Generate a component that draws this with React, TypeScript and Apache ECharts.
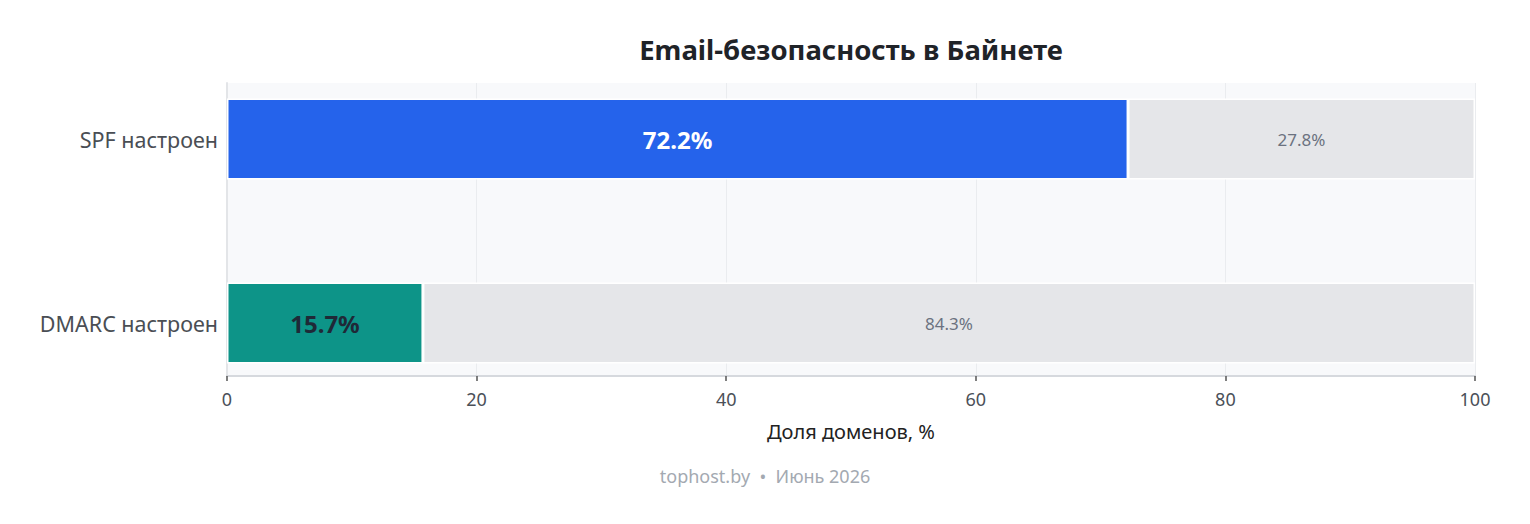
import React, { useEffect, useRef } from "react";
import * as echarts from "echarts";

const categories = ["SPF настроен", "DMARC настроен"];
const configured = [72.2, 15.7];
const notConfigured = [27.8, 84.3];
const barColors = ["#2563eb", "#0d9488"];
const labelColors = ["#ffffff", "#1f2937"];
const xTicks = [0, 20, 40, 60, 80, 100];
const titleText = "Email-безопасность в Байнете";
const xAxisName = "Доля доменов, %";
const footerText = "tophost.by  •  Июнь 2026";

const FONT = "'Noto Sans', 'Open Sans', sans-serif";

export default function App() {
  const ref = useRef<HTMLDivElement>(null);
  useEffect(() => {
    if (!ref.current) return;
    const chart = echarts.init(ref.current, undefined, { renderer: "svg" });
    const xMin = xTicks[0];
    const xMax = xTicks[xTicks.length - 1];
    chart.setOption({
      animation: false,
      textStyle: { fontFamily: FONT },
      grid: [
        { left: 227, right: 55, top: 47, bottom: 109, show: false },
        {
          left: 227,
          right: 55,
          top: 83,
          bottom: 148,
          show: true,
          backgroundColor: "#f8f9fb",
          borderWidth: 0,
          z: 0,
        },
      ],
      xAxis: [
        { type: "value", gridIndex: 0, min: xMin, max: xMax, interval: 20, show: false },
        {
          type: "value",
          gridIndex: 1,
          min: xMin,
          max: xMax,
          interval: 20,
          name: xAxisName,
          nameLocation: "middle",
          nameGap: 45,
          nameTextStyle: { fontSize: 20, color: "#222222", fontFamily: FONT },
          axisLine: { show: true, lineStyle: { color: "#d6d9de", width: 2 } },
          axisTick: { show: true, length: 5, lineStyle: { color: "#555555", width: 1.5 } },
          axisLabel: { fontSize: 18, color: "#4b5058", margin: 14, fontFamily: FONT },
          splitLine: { show: true, lineStyle: { color: "#eaecef", width: 1 } },
        },
      ],
      yAxis: [
        {
          type: "category",
          gridIndex: 0,
          data: categories,
          inverse: true,
          axisLine: { show: false },
          axisTick: { show: false },
          splitLine: { show: false },
          axisLabel: { fontSize: 21.5, color: "#4a4e54", margin: 9, fontFamily: FONT },
        },
        {
          type: "category",
          gridIndex: 1,
          data: categories,
          inverse: true,
          axisLine: { show: true, lineStyle: { color: "#e3e5e8", width: 2 } },
          axisTick: { show: false },
          axisLabel: { show: false },
          splitLine: { show: false },
        },
      ],
      series: [
        {
          type: "bar",
          xAxisIndex: 0,
          yAxisIndex: 0,
          stack: "total",
          barWidth: 81,
          z: 3,
          data: configured.map((v, i) => ({
            value: v,
            itemStyle: { color: barColors[i] },
            label: { color: labelColors[i] },
          })),
          itemStyle: { borderColor: "#ffffff", borderWidth: 1.5 },
          label: {
            show: true,
            position: "inside",
            fontSize: 24,
            fontWeight: "bold",
            fontFamily: FONT,
            formatter: (p: any) => `${p.value}%`,
          },
        },
        {
          type: "bar",
          xAxisIndex: 0,
          yAxisIndex: 0,
          stack: "total",
          barWidth: 81,
          z: 3,
          data: notConfigured,
          itemStyle: { color: "#e5e6e9", borderColor: "#ffffff", borderWidth: 1.5 },
          label: {
            show: true,
            position: "inside",
            fontSize: 17,
            color: "#6b7280",
            fontFamily: FONT,
            formatter: (p: any) => `${p.value}%`,
          },
        },
      ],
      graphic: [
        {
          type: "text",
          x: 851,
          y: 49,
          style: {
            text: titleText,
            fontSize: 27.5,
            fontWeight: "bold",
            fill: "#1f2328",
            fontFamily: FONT,
            textAlign: "center",
            textVerticalAlign: "middle",
          },
        },
        {
          type: "text",
          x: 765,
          y: 476,
          style: {
            text: footerText,
            fontSize: 18,
            fill: "#a3a9b1",
            fontFamily: FONT,
            textAlign: "center",
            textVerticalAlign: "middle",
          },
        },
      ],
    });
    return () => chart.dispose();
  }, []);
  return (
    <div
      ref={ref}
      style={{ position: "absolute", left: 0, top: 0, width: 1530, height: 524 }}
    />
  );
}
